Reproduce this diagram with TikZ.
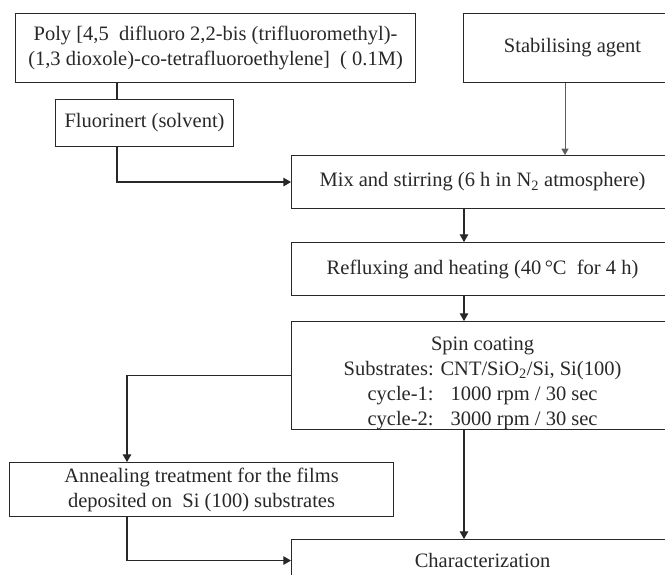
\documentclass[tikz,border=0pt]{standalone}
\usepackage{fontspec}
\setmainfont{Liberation Serif}
\usetikzlibrary{arrows}
\definecolor{ink}{RGB}{40,40,40}

\begin{document}
\begin{tikzpicture}[x=1pt,y=-1pt,
  every node/.style={font=\fontsize{20.5}{25}\selectfont, text=ink},
  box/.style={draw=ink, line width=1.1pt, rectangle, inner sep=0pt, anchor=north west, align=center},
  link/.style={draw=ink, line width=1.1pt},
  feed/.style={draw=ink!75, line width=0.7pt}]

\useasboundingbox (0,0) rectangle (665,575);
\clip (0,0) rectangle (665,575);

\node[box, minimum width=400pt, minimum height=69pt] (poly) at (15,13) {Poly [4,5~ difluoro 2,2-bis (trifluoromethyl)-\\(1,3 dioxole)-co-tetrafluoroethylene]~ ( 0.1M)};
\node[box, minimum width=178pt, minimum height=47pt] (fluor) at (55,99) {Fluorinert (solvent)};
\node[box, minimum width=218pt, minimum height=69pt] (stab) at (463,13) {Stabilising agent};
\node[box, minimum width=382pt, minimum height=53pt] (mix) at (291,155) {Mix and stirring (6 h in N\textsubscript{2} atmosphere)};
\node[box, minimum width=382pt, minimum height=53pt] (reflux) at (291,242) {Refluxing and heating (40\,°C~ for 4 h)};
\node[box, minimum width=382pt, minimum height=108pt] (spin) at (291,321) {\raisebox{-7pt}[\height][\depth]{\begin{tabular}{@{}c@{}}Spin coating\\Substrates: CNT/SiO\textsubscript{2}/Si, Si(100)\\cycle-1:~~ 1000 rpm / 30 sec\\cycle-2:~~ 3000 rpm / 30 sec\end{tabular}}};
\node[box, minimum width=384pt, minimum height=54pt] (anneal) at (9,462) {Annealing treatment for the films\\deposited on~ Si (100) substrates};
\node[box, minimum width=382pt, minimum height=42pt] (char) at (291,539) {Characterization};

\coordinate (cpoly) at (117,0);
\coordinate (feedx) at (565,0);
\coordinate (spine) at (464,0);
\coordinate (lft) at (127,0);

\draw[link] (poly.south -| cpoly) -- (fluor.north -| cpoly);
\draw[link,-triangle 60] (fluor.south -| cpoly) |- (mix.west);
\draw[feed,-triangle 60] (stab.south -| feedx) -- (mix.north -| feedx);
\draw[link,-triangle 60] (mix.south -| spine) -- (reflux.north -| spine);
\draw[link,-triangle 60] (reflux.south -| spine) -- (spin.north -| spine);
\draw[link,-triangle 60] (spin.west) -| (anneal.north -| lft);
\draw[link,-triangle 60] (spin.south -| spine) -- (char.north -| spine);
\draw[link,-triangle 60] (anneal.south -| lft) |- (char.west);
\end{tikzpicture}
\end{document}
